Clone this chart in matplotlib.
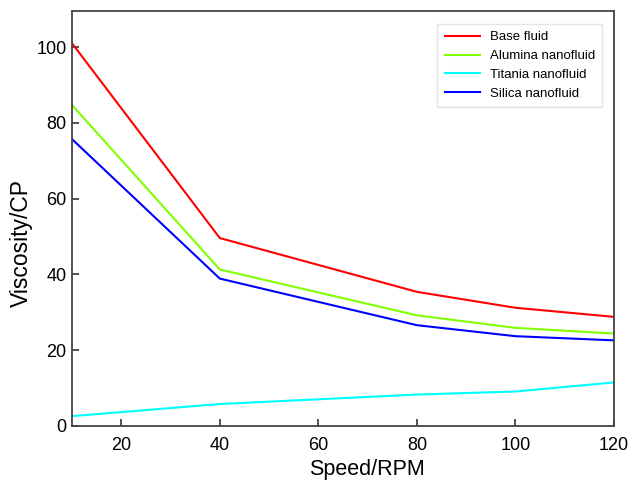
import matplotlib
matplotlib.use("Agg")
import matplotlib.pyplot as plt

plt.rcParams['font.family'] = ['Liberation Sans', 'DejaVu Sans']

speed = [10, 40, 80, 100, 120]
base_fluid = [101.0, 49.6, 35.4, 31.2, 28.8]
alumina = [84.7, 41.3, 29.2, 25.9, 24.4]
titania = [2.6, 5.8, 8.3, 9.1, 11.5]
silica = [75.7, 38.9, 26.6, 23.7, 22.6]
x_ticks = [20, 40, 60, 80, 100, 120]
y_ticks = [0, 20, 40, 60, 80, 100]

fig = plt.figure(figsize=(6.32, 4.8), dpi=100)
ax = fig.add_axes([0.1139, 0.1125, 0.8576, 0.8645])

ax.plot(speed, base_fluid, color='#ff0000', lw=1.5, label='Base fluid')
ax.plot(speed, alumina, color='#80ff00', lw=1.5, label='Alumina nanofluid')
ax.plot(speed, titania, color='#00ffff', lw=1.5, label='Titania nanofluid')
ax.plot(speed, silica, color='#0000ff', lw=1.5, label='Silica nanofluid')

ax.set_xlim(10, 120)
ax.set_ylim(0, 109.5)
ax.set_xticks(x_ticks)
ax.set_yticks(y_ticks)
ax.tick_params(direction='in', length=5, width=1.2, labelsize=13, top=False, right=False, color='#333333')
ax.tick_params(axis='x', pad=8)
ax.tick_params(axis='y', pad=4)
for s in ax.spines.values():
    s.set_linewidth(1.3)
    s.set_color('#444444')
ax.set_xlabel('Speed/RPM', fontsize=15.5)
ax.set_ylabel('Viscosity/CP', fontsize=16.5)
ax.xaxis.set_label_coords(0.545, -0.08)
ax.yaxis.set_label_coords(-0.073, 0.442)

leg = ax.legend(loc='upper right', bbox_to_anchor=(0.978, 0.969), borderaxespad=0,
                fontsize=9.5, frameon=True, fancybox=False, edgecolor='#dddddd',
                handlelength=2.7, borderpad=0.55, labelspacing=0.5, handletextpad=0.7)
leg.get_frame().set_linewidth(1.0)

fig.savefig('out.png', dpi=100)
